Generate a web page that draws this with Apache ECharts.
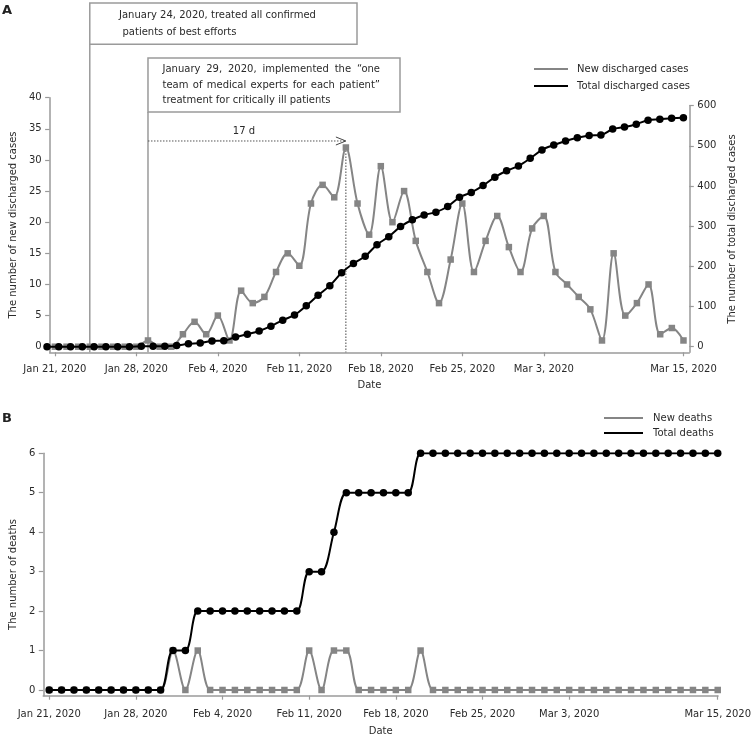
<!DOCTYPE html>
<html><head><meta charset="utf-8">
<script src="https://cdn.jsdelivr.net/npm/echarts@6/dist/echarts.min.js"></script>
<style>html,body{margin:0;padding:0;background:#fff}#c{width:754px;height:739px}</style>
</head><body><div id="c"></div>
<script>
// ---- data ----
const tickDays = [0, 7, 14, 21, 28, 35, 42, 54];
const tickLabels = ['Jan 21, 2020', 'Jan 28, 2020', 'Feb 4, 2020', 'Feb 11, 2020', 'Feb 18, 2020', 'Feb 25, 2020', 'Mar 3, 2020', 'Mar 15, 2020'];
const leftTicksA = [0, 5, 10, 15, 20, 25, 30, 35, 40];
const rightTicksA = [0, 100, 200, 300, 400, 500, 600];
const ticksB = [0, 1, 2, 3, 4, 5, 6];
const newDischarged = [0,0,0,0,0,0,0,0,1,0,0,2,4,2,5,1,9,7,8,12,15,13,23,26,24,32,23,18,29,20,25,17,12,7,14,23,12,17,21,16,12,19,21,12,10,8,6,1,15,5,7,10,2,3,1];
const totalDischarged = [0,0,0,0,0,0,0,0,1,1,1,3,7,9,14,15,24,31,39,51,66,79,102,128,152,184,207,225,254,274,299,316,328,335,349,372,384,401,422,438,450,469,490,502,512,520,526,527,542,547,554,564,566,569,570];
const newDeaths = [0,0,0,0,0,0,0,0,0,0,1,0,1,0,0,0,0,0,0,0,0,1,0,1,1,0,0,0,0,0,1,0,0,0,0,0,0,0,0,0,0,0,0,0,0,0,0,0,0,0,0,0,0,0,0];
const totalDeaths = [0,0,0,0,0,0,0,0,0,0,1,1,2,2,2,2,2,2,2,2,2,3,3,4,5,5,5,5,5,5,6,6,6,6,6,6,6,6,6,6,6,6,6,6,6,6,6,6,6,6,6,6,6,6,6];
const note1 = ['January 24, 2020, treated all confirmed', 'patients of best efforts'];
const note2 = ['January 29, 2020, implemented the \u201cone', 'team of medical experts for each patient\u201d', 'treatment for critically ill patients'];
const noteDays = [3, 8];
const peakDay = 25;

// ---- styles ----
const FONT = 'DejaVu Sans';
const AX = '#9a9a9a';
const TXT = '#2a2a2a';
const GRAY = '#858585';
const pairs = arr => arr.map((v, i) => [i, v]);

function xAxis(grid, min, max, show, name, gap, margin) {
  return {
    type: 'value', gridIndex: grid, min: min, max: max, show: show,
    name: name, nameLocation: 'middle', nameGap: gap,
    nameTextStyle: {fontSize: 10, color: TXT},
    axisLine: {show: true, onZero: false, lineStyle: {color: AX, width: 1.5}},
    axisTick: {show: true, customValues: tickDays, length: 4, lineStyle: {color: AX, width: 1.2}},
    axisLabel: {customValues: tickDays, fontSize: 10, color: TXT, margin: margin,
      formatter: v => tickLabels[tickDays.indexOf(v)] || ''},
    splitLine: {show: false}
  };
}
function yAxis(grid, pos, min, max, ticks, name, gap) {
  return {
    type: 'value', gridIndex: grid, position: pos, min: min, max: max,
    name: name, nameLocation: 'middle', nameGap: gap, nameRotate: 90,
    nameTextStyle: {fontSize: 10, color: TXT},
    axisLine: {show: true, onZero: false, lineStyle: {color: AX, width: 1.5}},
    axisTick: {show: true, customValues: ticks, length: 4.5, lineStyle: {color: AX, width: 1.2}},
    axisLabel: {customValues: ticks, fontSize: 10, color: TXT, margin: 8},
    splitLine: {show: false}
  };
}
function series(name, xi, yi, data, black) {
  return {
    type: 'line', name: name, xAxisIndex: xi, yAxisIndex: yi, data: pairs(data),
    smooth: 0.33, symbol: black ? 'circle' : 'rect', symbolSize: black ? 7.5 : 6.5,
    color: black ? '#000' : GRAY,
    lineStyle: {width: 2, color: black ? '#000' : GRAY},
    itemStyle: {color: black ? '#000' : GRAY},
    z: black ? 4 : 3
  };
}

const chart = echarts.init(document.getElementById('c'), null, {renderer: 'canvas'});
chart.setOption({
  animation: false,
  textStyle: {fontFamily: FONT},
  grid: [
    {left: 41.7, right: 64.7, top: 97.7, bottom: 386.7},
    {left: 41.7, right: 64.7, top: 105.7, bottom: 386.7},
    {left: 40.7, right: 33.5, top: 453.3, bottom: 43.3}
  ],
  xAxis: [
    xAxis(0, -0.45, 54.5, true, 'Date', 28, 12),
    xAxis(1, -0.45, 54.5, false, '', 0, 12),
    xAxis(2, -0.48, 54.03, true, 'Date', 31, 14)
  ],
  yAxis: [
    yAxis(0, 'left', -0.9, 40, leftTicksA, 'The number of new discharged cases', 24),
    yAxis(1, 'right', -14, 600, rightTicksA, 'The number of total discharged cases', 27),
    yAxis(2, 'left', -0.145, 6, ticksB, 'The number of deaths', 24)
  ],
  legend: [
    {data: ['New discharged cases', 'Total discharged cases'], orient: 'vertical', left: 529, top: 58,
     icon: 'rect', itemWidth: 34, itemHeight: 2.2, itemGap: 5,
     textStyle: {fontSize: 10, color: TXT, lineHeight: 12, padding: [0, 0, 0, 4]}},
    {data: ['New deaths', 'Total deaths'], orient: 'vertical', left: 599, top: 407,
     icon: 'rect', itemWidth: 39, itemHeight: 2.2, itemGap: 3,
     textStyle: {fontSize: 10, color: TXT, lineHeight: 12, padding: [0, 0, 0, 5]}}
  ],
  series: [
    series('New discharged cases', 0, 0, newDischarged, false),
    series('Total discharged cases', 1, 1, totalDischarged, true),
    series('New deaths', 2, 2, newDeaths, false),
    series('Total deaths', 2, 2, totalDeaths, true)
  ]
});

// ---- annotations ----
const G = [];
const xAt = d => chart.convertToPixel({xAxisIndex: 0}, d);
const yAt = v => chart.convertToPixel({yAxisIndex: 0}, v);
const axisY = yAt(-0.9);
const xa = xAt(noteDays[0]), xb = xAt(noteDays[1]), xp = xAt(peakDay), yp = yAt(newDischarged[peakDay]);
const ctx = document.createElement('canvas').getContext('2d');
ctx.font = '10px "' + FONT + '"';
function txt(s, x, y, align) {
  return {type: 'text', z: 10, style: {text: s, x: x, y: y, fill: TXT, font: '10px "' + FONT + '"', textVerticalAlign: 'middle', textAlign: align || 'left'}};
}
function justify(line, x0, x1, y) {
  const words = line.split(' ');
  const ws = words.map(w => ctx.measureText(w).width);
  const sum = ws.reduce((a, b) => a + b, 0);
  const gap = (x1 - x0 - sum) / (words.length - 1);
  let x = x0;
  words.forEach((w, i) => { G.push(txt(w, x, y)); x += ws[i] + gap; });
}
// box 1
G.push({type: 'rect', z: 5, shape: {x: xa, y: 3, width: 357 - xa, height: 41.3}, style: {fill: '#fff', stroke: AX, lineWidth: 1.5}});
G.push({type: 'line', z: 1, shape: {x1: xa, y1: 44.3, x2: xa, y2: axisY}, style: {stroke: AX, lineWidth: 1.5}});
G.push(txt(note1[0], 119, 15.5));
G.push(txt(note1[1], 122.5, 32));
// box 2
G.push({type: 'rect', z: 5, shape: {x: xb, y: 58, width: 400 - xb, height: 54}, style: {fill: '#fff', stroke: AX, lineWidth: 1.5}});
G.push({type: 'line', z: 1, shape: {x1: xb, y1: 112, x2: xb, y2: axisY}, style: {stroke: AX, lineWidth: 1.5}});
justify(note2[0], 162.5, 380, 69.5);
justify(note2[1], 162.5, 380, 85);
G.push(txt(note2[2], 162.5, 100.5));
// 17 d arrow
const ya = yp - 6.5;
G.push({type: 'line', z: 1, shape: {x1: xb, y1: ya, x2: xp, y2: ya}, style: {stroke: '#555', lineWidth: 1, lineDash: [1.5, 1.5]}});
G.push({type: 'polyline', z: 6, shape: {points: [[xp - 10, ya - 4], [xp, ya], [xp - 10, ya + 4]]}, style: {stroke: '#444', lineWidth: 1, fill: null}});
G.push(txt('17 d', (xb + xp) / 2 - 3, ya - 9.5, 'center'));
G.push({type: 'line', z: 1, shape: {x1: xp, y1: yp, x2: xp, y2: axisY}, style: {stroke: '#444', lineWidth: 1, lineDash: [1.5, 1.5]}});
// panel letters
G.push({type: 'text', z: 10, style: {text: 'A', x: 2, y: 4, fill: '#222', font: 'bold 13px "' + FONT + '"'}});
G.push({type: 'text', z: 10, style: {text: 'B', x: 2, y: 412, fill: '#222', font: 'bold 13px "' + FONT + '"'}});
chart.setOption({graphic: G});
</script></body></html>
